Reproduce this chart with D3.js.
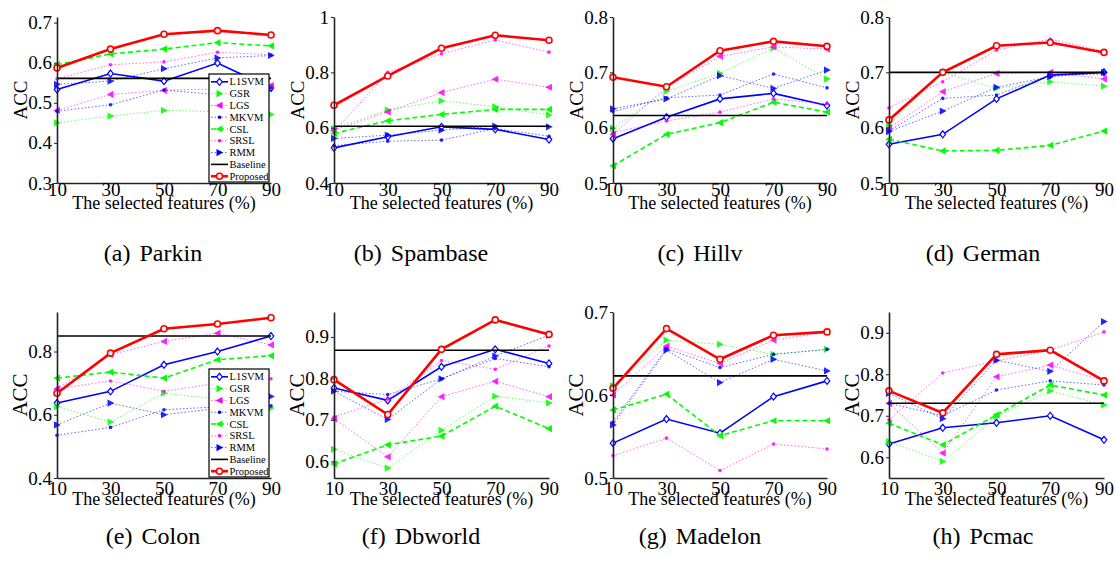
<!DOCTYPE html>
<html>
<head>
<meta charset="utf-8">
<script src="https://cdnjs.cloudflare.com/ajax/libs/d3/7.8.5/d3.min.js"></script>
<style>
  body { margin: 0; background: #fff; }
  svg { display: block; font-family: "Liberation Serif", "DejaVu Serif", serif; }
</style>
</head>
<body>
<svg id="acc-plot"></svg>
<script>
const xTicks = [10, 30, 50, 70, 90];
const datasets = ["Parkin", "Spambase", "Hillv", "German", "Colon", "Dbworld", "Madelon", "Pcmac"];
const captions = ["(a)", "(b)", "(c)", "(d)", "(e)", "(f)", "(g)", "(h)"];
const methods = ["L1SVM", "GSR", "LGS", "MKVM", "CSL", "SRSL", "RMM", "Baseline", "Proposed"];

const yTicks = [
    [0.3, 0.4, 0.5, 0.6, 0.7],
    [0.4, 0.6, 0.8, 1],
    [0.5, 0.6, 0.7, 0.8],
    [0.5, 0.6, 0.7, 0.8],
    [0.4, 0.6, 0.8],
    [0.6, 0.7, 0.8, 0.9],
    [0.5, 0.6, 0.7],
    [0.6, 0.7, 0.8, 0.9]
];
const yDomains = [
    [0.3, 0.714], [0.4, 1.0], [0.5, 0.8], [0.5, 0.8],
    [0.4, 0.925], [0.56, 0.96], [0.5, 0.7], [0.55, 0.95]
];

// one row per dataset, same order as `datasets`
const L1SVM = [
    [0.533, 0.573, 0.554, 0.599, 0.537],
    [0.527, 0.567, 0.603, 0.594, 0.557],
    [0.580, 0.619, 0.652, 0.662, 0.640],
    [0.570, 0.588, 0.652, 0.695, 0.700],
    [0.637, 0.674, 0.758, 0.800, 0.849],
    [0.777, 0.747, 0.828, 0.870, 0.836],
    [0.542, 0.571, 0.554, 0.598, 0.617],
    [0.632, 0.671, 0.683, 0.700, 0.642]
];
const GSR = [
    [0.450, 0.467, 0.481, 0.478, 0.471],
    [0.597, 0.664, 0.697, 0.676, 0.646],
    [0.599, 0.666, 0.698, 0.744, 0.688],
    [0.605, 0.700, 0.671, 0.683, 0.675],
    [0.626, 0.577, 0.668, 0.650, 0.621],
    [0.629, 0.584, 0.675, 0.757, 0.741],
    [0.611, 0.666, 0.661, 0.649, 0.655],
    [0.638, 0.590, 0.698, 0.760, 0.726]
];
const LGS = [
    [0.481, 0.521, 0.531, 0.535, 0.543],
    [0.591, 0.657, 0.727, 0.775, 0.746],
    [0.588, 0.673, 0.729, 0.746, 0.742],
    [0.599, 0.665, 0.698, 0.700, 0.688],
    [0.682, 0.790, 0.832, 0.858, 0.821],
    [0.703, 0.611, 0.756, 0.793, 0.756],
    [0.600, 0.659, 0.638, 0.666, 0.676],
    [0.730, 0.610, 0.794, 0.822, 0.784]
];
const MKVM = [
    [0.479, 0.495, 0.532, 0.520, 0.537],
    [0.535, 0.551, 0.555, 0.597, 0.569],
    [0.629, 0.654, 0.659, 0.697, 0.672],
    [0.594, 0.653, 0.659, 0.695, 0.697],
    [0.535, 0.560, 0.616, 0.625, 0.628],
    [0.769, 0.761, 0.799, 0.848, 0.828],
    [0.567, 0.656, 0.633, 0.649, 0.655],
    [0.730, 0.700, 0.762, 0.784, 0.774]
];
const CSL = [
    [0.595, 0.622, 0.634, 0.650, 0.642],
    [0.579, 0.625, 0.648, 0.666, 0.666],
    [0.531, 0.588, 0.609, 0.646, 0.628],
    [0.579, 0.558, 0.559, 0.568, 0.594],
    [0.716, 0.735, 0.716, 0.774, 0.787],
    [0.594, 0.640, 0.661, 0.733, 0.679],
    [0.582, 0.601, 0.551, 0.569, 0.569],
    [0.682, 0.630, 0.702, 0.774, 0.750]
];
const SRSL = [
    [0.560, 0.595, 0.602, 0.626, 0.620],
    [0.585, 0.800, 0.867, 0.917, 0.873],
    [0.591, 0.612, 0.628, 0.652, 0.643],
    [0.636, 0.683, 0.740, 0.760, 0.738],
    [0.682, 0.707, 0.674, 0.700, 0.714],
    [0.707, 0.750, 0.843, 0.822, 0.878],
    [0.527, 0.548, 0.509, 0.541, 0.535],
    [0.690, 0.803, 0.832, 0.858, 0.902]
];
const RMM = [
    [0.546, 0.554, 0.585, 0.612, 0.618],
    [0.561, 0.573, 0.591, 0.606, 0.603],
    [0.634, 0.652, 0.694, 0.671, 0.704],
    [0.593, 0.630, 0.673, 0.692, 0.700],
    [0.568, 0.637, 0.600, 0.620, 0.658],
    [0.769, 0.701, 0.799, 0.854, 0.904],
    [0.564, 0.654, 0.615, 0.643, 0.629],
    [0.754, 0.693, 0.834, 0.807, 0.927]
];
const Baseline = [0.561, 0.605, 0.622, 0.700, 0.849, 0.868, 0.623, 0.730];
const Proposed = [
    [0.587, 0.634, 0.671, 0.680, 0.669],
    [0.681, 0.787, 0.887, 0.934, 0.916],
    [0.691, 0.674, 0.739, 0.756, 0.747],
    [0.614, 0.700, 0.748, 0.754, 0.736],
    [0.668, 0.795, 0.872, 0.887, 0.907],
    [0.797, 0.713, 0.870, 0.941, 0.906],
    [0.608, 0.680, 0.643, 0.672, 0.676],
    [0.760, 0.707, 0.848, 0.858, 0.784]
];

const series = {
    L1SVM: L1SVM, GSR: GSR, LGS: LGS, MKVM: MKVM, CSL: CSL, SRSL: SRSL, RMM: RMM,
    Baseline: Baseline.map(v => xTicks.map(() => v)),
    Proposed: Proposed
};

const styles = {
    L1SVM:    { color: "#0000ff", width: 1.6, dash: null,    marker: "diamond", opacity: 1 },
    GSR:      { color: "#00ff00", width: 1,   dash: "1.5,2", marker: "right",   opacity: 0.6 },
    LGS:      { color: "#ff00ff", width: 1,   dash: "1.5,2", marker: "left",    opacity: 0.6 },
    MKVM:     { color: "#0000ff", width: 1,   dash: "1.5,2", marker: "dot",     opacity: 0.6 },
    CSL:      { color: "#00ff00", width: 1.6, dash: "5,3",   marker: "left",    opacity: 1 },
    SRSL:     { color: "#ff00ff", width: 1,   dash: "1.5,2", marker: "dot",     opacity: 0.6 },
    RMM:      { color: "#0000ff", width: 1,   dash: "1.5,2", marker: "right",   opacity: 0.6 },
    Baseline: { color: "#000000", width: 1.6, dash: null,    marker: null,      opacity: 1 },
    Proposed: { color: "#ff0000", width: 2.6, dash: null,    marker: "circle",  opacity: 1 }
};

const colX = [[57, 271], [334, 549], [613, 827], [889, 1104]];
const rowY = [[17, 183], [312, 478]];
const captionX = [153, 421, 700, 983];
const captionY = [261, 544];
const xLabelY = [209, 505];
const tickPad = [0, 4];

const svg = d3.select('#acc-plot')
    .attr('width', 1116)
    .attr('height', 561);

svg.append('rect').attr('width', 1116).attr('height', 561).attr('fill', '#fff');

const drawMarker = (g, type, cx, cy, color) => {
    if (type === "diamond") {
        g.append('path')
            .attr('d', `M${cx},${cy - 3.5}L${cx + 2.8},${cy}L${cx},${cy + 3.5}L${cx - 2.8},${cy}Z`)
            .attr('fill', '#fff').attr('stroke', color).attr('stroke-width', 1.2);
    } else if (type === "right") {
        g.append('path')
            .attr('d', `M${cx - 3},${cy - 3.6}L${cx + 3.8},${cy}L${cx - 3},${cy + 3.6}Z`)
            .attr('fill', color);
    } else if (type === "left") {
        g.append('path')
            .attr('d', `M${cx + 3},${cy - 3.6}L${cx - 3.8},${cy}L${cx + 3},${cy + 3.6}Z`)
            .attr('fill', color);
    } else if (type === "dot") {
        g.append('circle').attr('cx', cx).attr('cy', cy).attr('r', 1.8).attr('fill', color);
    } else if (type === "circle") {
        g.append('circle').attr('cx', cx).attr('cy', cy).attr('r', 3)
            .attr('fill', '#fff').attr('stroke', color).attr('stroke-width', 1.6);
    }
};

datasets.forEach((name, k) => {
    const row = Math.floor(k / 4), col = k % 4;
    const [x0, x1] = colX[col];
    const [y0, y1] = rowY[row];

    const x = d3.scaleLinear().domain([10, 90]).range([x0, x1]);
    const y = d3.scaleLinear().domain(yDomains[k]).range([y1, y0]);

    const panel = svg.append('g');

    // series lines + markers
    methods.forEach(m => {
        const st = styles[m];
        const vals = series[m][k];
        const line = d3.line().x((d, i) => x(xTicks[i])).y(d => y(d));
        panel.append('path')
            .attr('d', line(vals))
            .attr('fill', 'none')
            .attr('stroke', st.color)
            .attr('stroke-width', st.width)
            .attr('stroke-dasharray', st.dash)
            .attr('opacity', st.opacity);
        if (st.marker) {
            const mg = panel.append('g').attr('opacity', st.opacity < 1 ? 0.85 : 1);
            vals.forEach((v, i) => drawMarker(mg, st.marker, x(xTicks[i]), y(v), st.color));
        }
    });

    // axes
    const yAxis = panel.append('g')
        .attr('transform', `translate(${x0},0)`)
        .call(d3.axisLeft(y).tickValues(yTicks[k]).tickFormat(d => String(d))
            .tickSizeInner(3).tickSizeOuter(0).tickPadding(2));
    const xAxis = panel.append('g')
        .attr('transform', `translate(0,${y1})`)
        .call(d3.axisBottom(x).tickValues(xTicks).tickSize(0).tickPadding(tickPad[row]));
    [yAxis, xAxis].forEach(a => {
        a.select('.domain').attr('stroke', '#222').attr('stroke-width', 1.6);
        a.selectAll('.tick line').attr('stroke', '#222');
        a.selectAll('text').attr('font-family', 'Liberation Serif').attr('font-size', 19).attr('fill', '#000');
    });
    xAxis.selectAll('text').attr('dy', '0.68em');

    panel.append('text')
        .attr('transform', 'rotate(-90)')
        .attr('x', -(y0 + y1) / 2)
        .attr('y', x0 - 30)
        .attr('text-anchor', 'middle')
        .style('font-size', row === 0 ? '19px' : '21px')
        .text('ACC');

    panel.append('text')
        .attr('x', (x0 + x1) / 2)
        .attr('y', xLabelY[row])
        .attr('text-anchor', 'middle')
        .style('font-size', '18px')
        .text('The selected features (%)');

    const cap = panel.append('text')
        .attr('x', captionX[col])
        .attr('y', captionY[row])
        .attr('text-anchor', 'middle')
        .style('font-size', '24px');
    cap.append('tspan').text(captions[k]);
    cap.append('tspan').attr('dx', 9).text(name);

    // legend only in first column
    if (col === 0) {
        const lx = x1 - 62, ly = y1 - 109;
        const lg = panel.append('g');
        lg.append('rect')
            .attr('x', lx).attr('y', ly).attr('width', 60).attr('height', 108)
            .attr('fill', '#fff').attr('stroke', '#000').attr('stroke-width', 1.2);
        methods.forEach((m, i) => {
            const st = styles[m];
            const ey = ly + 7.8 + i * 11.8;
            lg.append('line')
                .attr('x1', lx + 2).attr('x2', lx + 19)
                .attr('y1', ey).attr('y2', ey)
                .attr('stroke', st.color)
                .attr('stroke-width', st.width)
                .attr('stroke-dasharray', st.dash)
                .attr('opacity', st.opacity);
            if (st.marker) drawMarker(lg, st.marker, lx + 10.5, ey, st.color);
            lg.append('text')
                .attr('x', lx + 20.5)
                .attr('y', ey + 3.6)
                .style('font-size', '10.5px')
                .text(m);
        });
    }
});
</script>
</body>
</html>
